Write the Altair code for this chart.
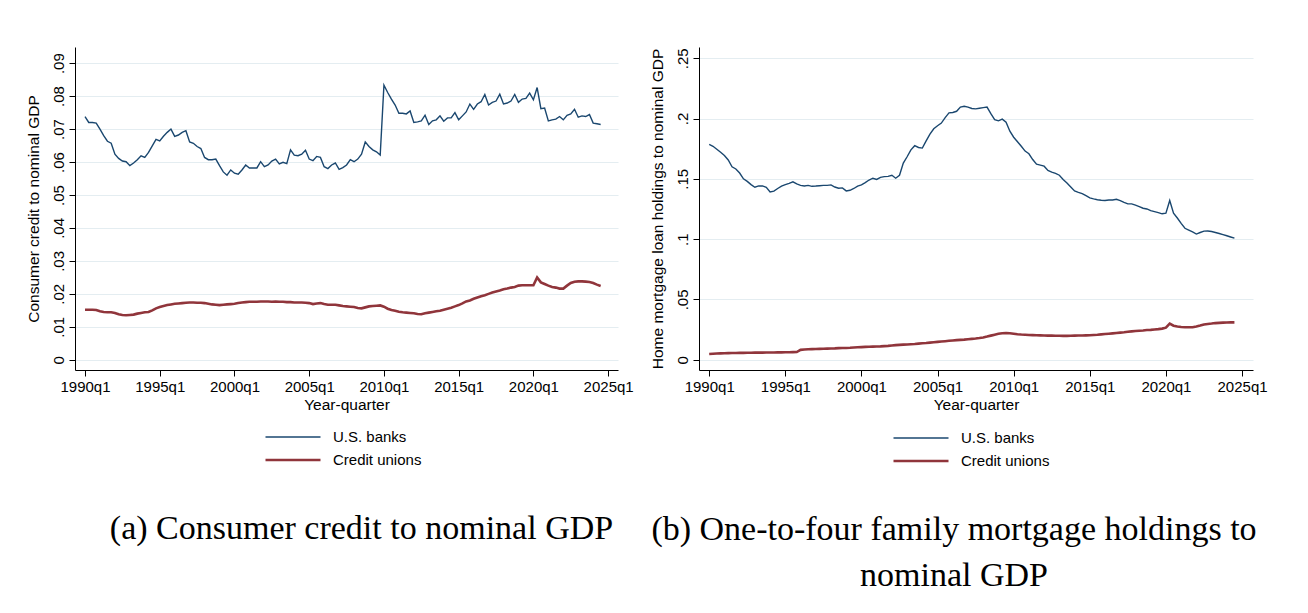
import altair as alt
import pandas as pd

START_YEAR = 1990
series_names = ["U.S. banks", "Credit unions"]
series_colors = ["#1a476f", "#90353b"]
series_widths = [1.4, 2.6]

x_tick_years = [1990, 1995, 2000, 2005, 2010, 2015, 2020, 2025]
cc_ticks = [0, 0.01, 0.02, 0.03, 0.04, 0.05, 0.06, 0.07, 0.08, 0.09]
mort_ticks = [0, 0.05, 0.1, 0.15, 0.2, 0.25]

captions_a = ["(a) Consumer credit to nominal GDP"]
captions_b = ["(b) One-to-four family mortgage holdings to", "nominal GDP"]

# Consumer credit to nominal GDP, quarterly 1990q1-2024q3
cc_banks = [
    .0738, .0720, .0720, .0718,
    .0700, .0680, .0663, .0657,
    .0624, .0611, .0603, .0601,
    .0589, .0597, .0607, .0619,
    .0614, .0629, .0649, .0669,
    .0664, .0678, .0690, .0700,
    .0678, .0682, .0690, .0695,
    .0661, .0657, .0647, .0641,
    .0614, .0607, .0607, .0609,
    .0589, .0570, .0560, .0576,
    .0566, .0563, .0576, .0591,
    .0582, .0582, .0582, .0601,
    .0586, .0591, .0603, .0609,
    .0594, .0599, .0595, .0637,
    .0621, .0619, .0624, .0636,
    .0609, .0604, .0617, .0614,
    .0586, .0580, .0591, .0597,
    .0578, .0583, .0591, .0607,
    .0601, .0609, .0624, .0661,
    .0647, .0637, .0631, .0621,
    .0833, .0811, .0791, .0773,
    .0748, .0748, .0746, .0755,
    .0720, .0722, .0725, .0742,
    .0714, .0725, .0728, .0740,
    .0724, .0734, .0734, .0750,
    .0728, .0740, .0752, .0776,
    .0760, .0776, .0783, .0805,
    .0773, .0781, .0785, .0806,
    .0776, .0779, .0785, .0805,
    .0781, .0791, .0793, .0809,
    .0789, .0826, .0762, .0764,
    .0725, .0728, .0730, .0738,
    .0728, .0742, .0746, .0760,
    .0736, .0740, .0738, .0744,
    .0718, .0716, .0714,
]
cc_cu = [
    .0152, .0152, .0152, .0151,
    .0147, .0145, .0144, .0144,
    .0142, .0138, .0136, .0135,
    .0136, .0137, .0140, .0142,
    .0144, .0145, .0150, .0156,
    .0160, .0163, .0166, .0168,
    .0170, .0171, .0172, .0173,
    .0174, .0174, .0173, .0173,
    .0172, .0170, .0168, .0167,
    .0166, .0167, .0168, .0169,
    .0170, .0172, .0174, .0175,
    .0176, .0176, .0176, .0177,
    .0177, .0177, .0176, .0177,
    .0176, .0176, .0175, .0175,
    .0174, .0174, .0174, .0173,
    .0172, .0169, .0171, .0172,
    .0169, .0167, .0167, .0167,
    .0165, .0163, .0162, .0161,
    .0160, .0157, .0156, .0159,
    .0162, .0163, .0164, .0165,
    .0161, .0155, .0151, .0149,
    .0146, .0144, .0143, .0142,
    .0141, .0139, .0138, .0141,
    .0143, .0145, .0147, .0149,
    .0152, .0155, .0158, .0162,
    .0166, .0171, .0177, .0180,
    .0185, .0189, .0193, .0196,
    .0200, .0204, .0207, .0210,
    .0214, .0216, .0219, .0221,
    .0225, .0226, .0226, .0226,
    .0226, .0250, .0235, .0230,
    .0225, .0221, .0219, .0216,
    .0216, .0225, .0233, .0237,
    .0238, .0238, .0237, .0236,
    .0233, .0228, .0224,
]

# Home mortgage loan holdings to nominal GDP, quarterly 1990q1-2024q3
mort_banks = [
    .1785, .1770, .1745, .1720,
    .1693, .1656, .1600, .1582,
    .1548, .1500, .1479, .1452,
    .1430, .1441, .1441, .1430,
    .1391, .1398, .1420, .1440,
    .1452, .1463, .1475, .1458,
    .1446, .1441, .1446, .1438,
    .1440, .1443, .1446, .1446,
    .1450, .1432, .1422, .1425,
    .1400, .1405, .1420, .1440,
    .1450, .1468, .1490, .1505,
    .1495, .1512, .1518, .1520,
    .1530, .1505, .1530, .1630,
    .1683, .1740, .1775, .1760,
    .1755, .1815, .1870, .1915,
    .1940, .1962, .2008, .2047,
    .2050, .2060, .2095, .2102,
    .2095, .2083, .2080, .2085,
    .2090, .2095, .2040, .1990,
    .1981, .1995, .1970, .1895,
    .1845, .1808, .1770, .1730,
    .1708, .1660, .1622, .1614,
    .1605, .1570, .1556, .1545,
    .1530, .1494, .1465, .1432,
    .1400, .1388, .1378, .1360,
    .1342, .1334, .1327, .1322,
    .1320, .1325, .1325, .1330,
    .1320, .1305, .1292, .1292,
    .1282, .1270, .1256, .1250,
    .1236, .1228, .1220, .1210,
    .1215, .1320, .1215, .1175,
    .1130, .1090, .1075, .1060,
    .1042, .1055, .1066, .1068,
    .1063, .1055, .1047, .1038,
    .1028, .1018, .1008,
]
mort_cu = [
    .0048, .0050, .0052, .0053,
    .0054, .0055, .0056, .0056,
    .0057, .0057, .0058, .0058,
    .0059, .0059, .0059, .0060,
    .0060, .0060, .0061, .0061,
    .0062, .0062, .0063, .0064,
    .0082, .0085, .0087, .0088,
    .0089, .0090, .0091, .0092,
    .0093, .0094, .0096, .0097,
    .0098, .0099, .0101, .0103,
    .0105, .0107, .0108, .0109,
    .0110, .0111, .0113, .0115,
    .0118, .0121, .0123, .0125,
    .0127, .0129, .0131, .0134,
    .0137, .0139, .0142, .0145,
    .0148, .0151, .0154, .0157,
    .0160, .0163, .0165, .0167,
    .0170, .0173, .0176, .0180,
    .0185, .0192, .0200, .0208,
    .0215, .0220, .0222, .0220,
    .0216, .0212, .0209, .0207,
    .0205, .0204, .0203, .0202,
    .0201, .0200, .0200, .0199,
    .0199, .0198, .0198, .0199,
    .0200, .0201, .0201, .0202,
    .0203, .0205, .0207, .0210,
    .0213, .0216, .0219, .0222,
    .0225, .0228, .0232, .0235,
    .0238, .0241, .0243, .0246,
    .0248, .0251, .0254, .0258,
    .0266, .0300, .0282, .0276,
    .0272, .0270, .0269, .0270,
    .0276, .0284, .0293, .0297,
    .0300, .0304, .0306, .0308,
    .0309, .0310, .0310,
]

FONT = "Liberation Sans"
SERIF = "Liberation Serif"


def make_df(banks, cu):
    rows = []
    for name, vals in zip(series_names, [banks, cu]):
        for i, v in enumerate(vals):
            rows.append({
                "t": START_YEAR + i / 4.0,
                "quarter": f"{START_YEAR + i // 4}q{i % 4 + 1}",
                "series": name,
                "value": v,
            })
    return pd.DataFrame(rows)


def legend(lx, ly):
    return alt.Legend(
        title=None, orient="none", legendX=lx, legendY=ly, direction="vertical",
        symbolType="stroke", symbolSize=3025, clipHeight=20, rowPadding=3,
        labelFont=FONT, labelFontSize=15, labelColor="#000000", labelOffset=11,
        padding=0, symbolOpacity=1,
    )


def panel(df, y_title, y_ticks, y_domain, width, height, x_domain,
          caption, cap_dx, cap_offset, lx, ly):
    lg = legend(lx, ly)
    return alt.Chart(df).mark_line().encode(
        x=alt.X("t:Q",
                scale=alt.Scale(domain=x_domain, nice=False, zero=False),
                axis=alt.Axis(values=x_tick_years,
                              labelExpr="format(datum.value, 'd') + 'q1'",
                              title="Year-quarter", grid=False,
                              labelPadding=3, titlePadding=3)),
        y=alt.Y("value:Q",
                scale=alt.Scale(domain=y_domain, nice=False, zero=False),
                axis=alt.Axis(values=y_ticks,
                              labelExpr="datum.value == 0 ? '0' : replace(format(datum.value, '.2~f'), '0.', '.')",
                              title=y_title, grid=True, labelAngle=270,
                              labelAlign="center", labelBaseline="bottom",
                              labelPadding=3, titlePadding=10)),
        color=alt.Color("series:N",
                        scale=alt.Scale(domain=series_names, range=series_colors),
                        legend=lg),
        strokeWidth=alt.StrokeWidth("series:N",
                                    scale=alt.Scale(domain=series_names, range=series_widths),
                                    legend=lg),
        detail="series:N",
    ).properties(
        width=width, height=height,
        title=alt.TitleParams(text=caption, orient="bottom", anchor="middle",
                              font=SERIF, fontSize=34, fontWeight="normal",
                              color="#000000", dx=cap_dx, offset=cap_offset,
                              lineHeight=46, frame="group"),
    )


left = panel(make_df(cc_banks, cc_cu), "Consumer credit to nominal GDP", cc_ticks,
             [-0.0031, 0.0949], 543, 323, [1989.33, 2025.66],
             captions_a, 15, 42, 189, 380)
right = panel(make_df(mort_banks, mort_cu), "Home mortgage loan holdings to nominal GDP",
              mort_ticks, [-0.0085, 0.2593], 554, 323, [1989.33, 2025.72],
              captions_b, -22, 42, 193, 381)

chart = alt.hconcat(left, right, spacing=16).resolve_scale(
    color="independent", strokeWidth="independent", x="independent", y="independent"
).resolve_legend(color="independent", strokeWidth="independent").properties(
    padding={"left": 18, "top": 39, "right": 5, "bottom": 5},
    background="white",
).configure_view(stroke=None).configure_axis(
    labelFont=FONT, titleFont=FONT, labelFontSize=15, titleFontSize=15.5,
    titleFontWeight="normal", labelColor="#000000", titleColor="#000000",
    domainColor="#000000", tickColor="#000000", tickSize=6, domainWidth=1,
    tickWidth=1, gridColor="#e4edf1", gridWidth=1.2,
)

chart.save("out.html", embed_options={"renderer": "svg", "actions": False})
